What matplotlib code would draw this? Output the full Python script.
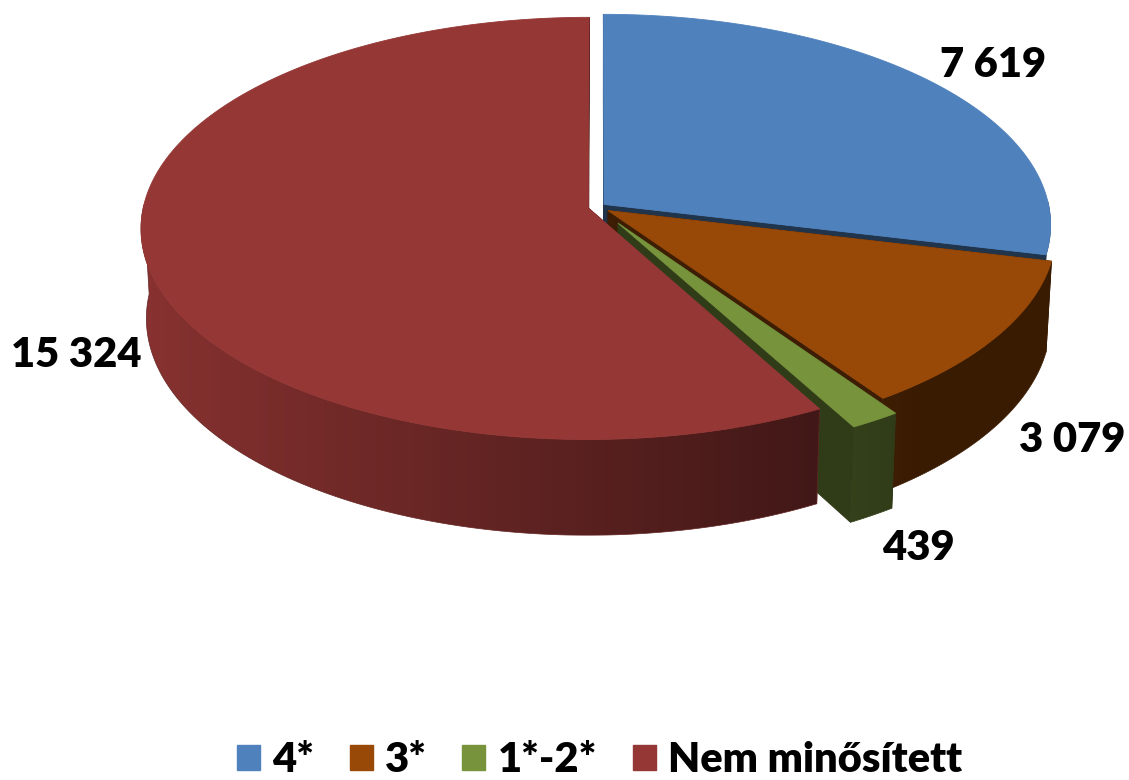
import numpy as np
import matplotlib.pyplot as plt
from matplotlib.patches import Polygon, Patch
from matplotlib.colors import to_rgb

categories = ['4*', '3*', '1*-2*', 'Nem minősített']
values = [7619, 3079, 439, 15324]
value_labels = ['7 619', '3 079', '439', '15 324']
colors = ['#4F81BD', '#984807', '#77933C', '#953735']

# layout
explode = [0.02, 0.03, 0.09, 0.02]
label_xy = [(993, 65), (1072, 440), (918, 548), (76, 355)]
FONT = 'Lato'

# simple perspective camera for the 3d pie
CX, CY = 597, 207
F, D = 4076, 9.16
phi = np.radians(28)
H = 0.23


def proj(X, Y, Z):
    X, Y, Z = np.asarray(X, float), np.asarray(Y, float), np.asarray(Z, float)
    depth = D + Y * np.cos(phi) - Z * np.sin(phi)
    up = Y * np.sin(phi) + Z * np.cos(phi)
    return np.column_stack([CX + F * X / depth, CY - F * up / depth])


def shade(c, f):
    return np.clip(np.array(to_rgb(c)) * np.asarray(f)[..., None], 0, 1)


def wall_factor(t):
    return np.maximum(0.38, 0.92 - 0.49 * (np.cos(t) + 1) / 1.5)


fig = plt.figure(figsize=(11.29, 7.8), dpi=100)
ax = fig.add_axes([0, 0, 1, 1])
ax.set_xlim(0, 1129)
ax.set_ylim(780, 0)
ax.axis('off')

frac = np.array(values) / sum(values)
cum = np.concatenate([[0], np.cumsum(frac)])

walls = []  # (depth key, kind, data)
tops = []
for i in range(len(values)):
    t1 = np.radians(90 - 360 * cum[i])
    t2 = np.radians(90 - 360 * cum[i + 1])
    mid = (t1 + t2) / 2
    ox, oy = explode[i] * np.cos(mid), explode[i] * np.sin(mid)
    ts = np.linspace(t1, t2, max(6, int(abs(t1 - t2) * 120)))
    rx, ry = ox + np.cos(ts), oy + np.sin(ts)

    top = proj(np.r_[ox, rx], np.r_[oy, ry], np.zeros(len(ts) + 1))
    tops.append((top, colors[i]))

    # radial side walls
    for t in (t1, t2):
        X = [ox, ox + np.cos(t), ox + np.cos(t), ox]
        Y = [oy, oy + np.sin(t), oy + np.sin(t), oy]
        Z = [0, 0, -H, -H]
        walls.append((oy + np.sin(t) / 2, 'flat', (proj(X, Y, Z), shade(colors[i], 0.4))))

    # outer curved wall, front part only, shaded by angle
    tf = ts[np.sin(ts) <= 0.02]
    if len(tf) < 2:
        continue
    fx, fy = ox + np.cos(tf), oy + np.sin(tf)
    upper = proj(fx, fy, np.zeros(len(tf)))
    lower = proj(fx, fy, np.full(len(tf), -H))
    walls.append((oy + np.sin(tf).mean(), 'grad',
                  (np.vstack([upper, lower[::-1]]), upper[:, 0], wall_factor(tf), colors[i])))

for key, kind, data in sorted(walls, key=lambda w: -w[0]):
    if kind == 'flat':
        pts, c = data
        ax.add_patch(Polygon(pts, closed=True, facecolor=c, edgecolor=c, lw=0.6))
    else:
        pts, xs, fac, c = data
        poly = Polygon(pts, closed=True, facecolor='none', edgecolor='none')
        ax.add_patch(poly)
        x0, x1 = pts[:, 0].min(), pts[:, 0].max()
        y0, y1 = pts[:, 1].min(), pts[:, 1].max()
        cols = np.linspace(x0, x1, 400)
        order = np.argsort(xs)
        f = np.interp(cols, xs[order], fac[order])
        img = np.repeat(shade(c, f)[None, :, :], 2, axis=0)
        im = ax.imshow(img, extent=(x0, x1, y1, y0), aspect='auto',
                       interpolation='bilinear', zorder=1)
        im.set_clip_path(poly)
        ax.add_patch(Polygon(pts, closed=True, facecolor='none',
                             edgecolor=shade(c, f.mean()), lw=0.5, zorder=1))

for pts, c in tops:
    ax.add_patch(Polygon(pts, closed=True, facecolor=c, edgecolor=c, lw=0.6, zorder=2))

for (x, y), txt in zip(label_xy, value_labels):
    ax.text(x, y, txt, ha='center', va='center', fontsize=30,
            fontweight='heavy', family=FONT, color='black')

handles = [Patch(facecolor=c, edgecolor=c, label=l) for c, l in zip(colors, categories)]
ax.legend(handles=handles, ncol=4, loc='lower center', bbox_to_anchor=(0.531, -0.047),
          frameon=False, prop={'family': FONT, 'weight': 'heavy', 'size': 30},
          handlelength=0.55, handleheight=0.55, handletextpad=0.3, columnspacing=0.85)

fig.savefig('out.png', dpi=100)
